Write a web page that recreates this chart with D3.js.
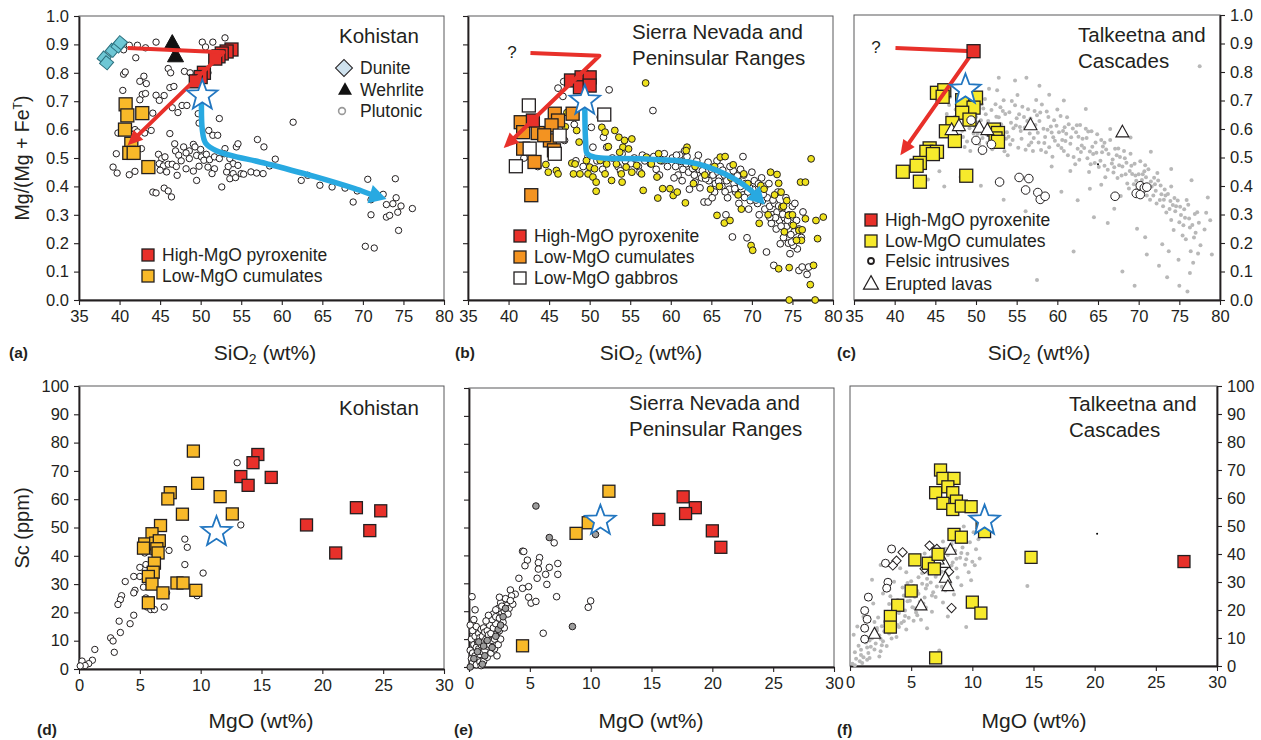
<!DOCTYPE html>
<html><head><meta charset="utf-8">
<script src="https://cdn.jsdelivr.net/npm/d3@7"></script>
<style>
body{margin:0;background:#fff}
svg{display:block}
text{font-family:"Liberation Sans",Arial,Helvetica,sans-serif;fill:#231f20}
</style></head><body>
<svg id="chart" width="1261" height="740"></svg>
<script>
// ---------------- DATA ----------------
const siTicks = [35,40,45,50,55,60,65,70,75,80];
const mgTicks = [0,0.1,0.2,0.3,0.4,0.5,0.6,0.7,0.8,0.9,1.0];
const mgoTicks = [0,5,10,15,20,25,30];
const scTicks = [0,10,20,30,40,50,60,70,80,90,100];

// (a) Kohistan, SiO2 vs Mg#
const aDunite = [[38.1,0.852],[38.4,0.835],[39.1,0.879],[39.8,0.894],[40.1,0.906]];
const aWehrlite = [[46.5,0.903],[46.9,0.858]];
const aHigh = [[53.8,0.882],[53.2,0.875],[52.6,0.868],[52.2,0.858],[51.8,0.85],[50.4,0.80],[50.0,0.785],[49.4,0.77]];
const aLow = [[40.75,0.689],[40.96,0.650],[42.8,0.658],[40.67,0.600],[41.45,0.550],[41.2,0.518],[41.74,0.518],[43.55,0.468]];
const aPlut = [[40.5,0.881],[41.2,0.897],[42.2,0.897],[43.2,0.888],[44.5,0.908],[50.2,0.908],[51.5,0.908],[53.0,0.923],[50.6,0.891],[42.0,0.853],
[46.0,0.815],[46.3,0.80],[48.0,0.805],[48.7,0.80],[49.8,0.80],[50.9,0.80],[40.5,0.795],[40.7,0.803],[43.0,0.788],[42.5,0.770],[43.3,0.762],
[40.4,0.738],[46.2,0.748],[46.7,0.752],[42.8,0.724],[43.2,0.727],[44.5,0.721],[45.5,0.72],[42.5,0.705],[44.9,0.703],[46.5,0.677],[47.2,0.660],
[47.7,0.685],[48.3,0.685],[44.1,0.658],[41.9,0.60],[42.2,0.592],[43.1,0.588],[43.9,0.597],[39.8,0.588],[49.7,0.656],[49.8,0.623],[52.3,0.639],
[51.0,0.597],[51.5,0.58],[52.1,0.58],[46.2,0.586],[46.8,0.550],[46.9,0.525],[39.6,0.515],[39.2,0.468],[39.7,0.447],[41.2,0.441],[41.9,0.453],
[42.7,0.533],[44.8,0.513],[45.2,0.498],[45.6,0.504],[44.9,0.48],[45.4,0.472],[46.0,0.478],[46.5,0.478],[45.0,0.457],[45.8,0.451],[47.1,0.439],
[47.9,0.539],[48.6,0.525],[48.2,0.518],[49.1,0.548],[49.3,0.539],[48.6,0.498],[49.5,0.509],[50.1,0.504],[50.7,0.513],[50.4,0.492],[51.1,0.494],
[51.7,0.504],[52.3,0.498],[49.8,0.471],[50.9,0.468],[51.7,0.462],[48.2,0.462],[49.1,0.454],[49.5,0.421],[51.4,0.445],[53.0,0.533],[54.4,0.539],
[54.6,0.550],[53.6,0.498],[54.0,0.480],[53.2,0.451],[54.6,0.474],[54.0,0.445],[55.0,0.445],[53.6,0.427],[54.3,0.431],[52.6,0.398],[55.3,0.443],
[56.2,0.451],[56.9,0.447],[57.7,0.445],[57.0,0.565],[57.8,0.539],[58.5,0.472],[59.2,0.496],[61.4,0.626],[62.4,0.421],[63.2,0.439],[64.7,0.404],
[66.2,0.398],[67.8,0.394],[68.8,0.345],[69.3,0.384],[70.6,0.425],[71.0,0.353],[71.0,0.30],[70.3,0.189],[71.4,0.183],[72.5,0.372],[72.9,0.336],
[72.9,0.292],[73.3,0.298],[73.7,0.339],[74.0,0.427],[74.1,0.360],[74.3,0.309],[74.7,0.331],[74.4,0.245],[76.1,0.322],[44.1,0.380],[44.5,0.377],
[45.5,0.394],[46.0,0.384],[46.4,0.363],[47.3,0.51],[47.6,0.49],[52.9,0.515],[53.4,0.47],[50.0,0.53],[47.0,0.47]];
const aStar = [[50.2,0.72]];
const aRed = [[41.0,0.887],[52.8,0.872],[41.0,0.545]];
const aBlue = [[50.1,0.700],[50.2,0.600],[50.6,0.553],[52.0,0.525],[58.0,0.481],[64.0,0.435],[69.0,0.392],[71.0,0.372],[72.9,0.356]];

// (b) Sierra Nevada and Peninsular Ranges
const bHigh = [[47.7,0.773],[49.0,0.784],[50.0,0.784],[48.8,0.749],[50.0,0.755],[43.0,0.632]];
const bLow = [[41.5,0.626],[41.8,0.591],[43.6,0.588],[45.7,0.656],[46.1,0.632],[45.3,0.615],[45.1,0.562],[45.6,0.527],[41.8,0.533],[43.2,0.486],[42.8,0.369],[47.9,0.656],[44.4,0.58]];
const bGab = [[42.5,0.685],[42.6,0.533],[40.9,0.471],[45.7,0.515],[51.8,0.653],[46.3,0.579]];
const bWhite = [[46.8,0.769],[46.1,0.746],[46.7,0.717],[52.4,0.740],[57.8,0.667],[51.3,0.644],[50.2,0.608],[48.1,0.618],[42.5,0.506],[46.9,0.562],
[51.7,0.573],[52.1,0.538],[50.4,0.538],[44.6,0.57],[41.9,0.50],[43.6,0.47],[48.3,0.49],[49.2,0.47],[50.9,0.49],[52.8,0.50],[53.5,0.47],[54.4,0.49],
[55.1,0.48],[56.0,0.47],[56.8,0.49],[57.5,0.48],[58.2,0.46],[58.9,0.49],[59.6,0.47],[60.2,0.50],[60.6,0.47],[61.1,0.51],[61.5,0.46],[61.9,0.48],
[62.2,0.45],[62.6,0.475],[62.9,0.44],[63.2,0.49],[63.5,0.46],[63.8,0.43],[64.1,0.47],[64.4,0.45],[64.7,0.42],[65.0,0.46],[65.2,0.44],[65.5,0.41],
[65.8,0.45],[66.0,0.43],[66.3,0.40],[66.6,0.44],[66.9,0.42],[67.2,0.39],[67.5,0.43],[67.8,0.41],[68.0,0.38],[68.3,0.42],[68.6,0.40],[68.9,0.37],
[69.2,0.41],[69.5,0.38],[69.8,0.35],[70.1,0.39],[70.4,0.37],[70.7,0.34],[71.0,0.38],[71.3,0.35],[71.6,0.32],[71.9,0.36],[72.2,0.33],[72.5,0.30],
[72.8,0.34],[73.1,0.31],[73.4,0.28],[73.7,0.32],[74.0,0.29],[74.3,0.26],[74.6,0.30],[74.9,0.27],[75.2,0.24],[75.5,0.28],[75.8,0.25],[76.1,0.22],
[60.9,0.44],[61.4,0.42],[62.0,0.505],[63.0,0.415],[63.6,0.395],[64.6,0.485],[65.4,0.38],[66.1,0.47],[67.0,0.36],[67.7,0.455],[68.4,0.34],[69.0,0.44],
[69.6,0.32],[70.3,0.42],[70.9,0.30],[71.6,0.40],[72.4,0.27],[73.0,0.25],[73.9,0.22],[74.5,0.20],[75.0,0.33],[75.6,0.18],[68.9,0.505],[67.6,0.222],
[69.4,0.219],[71.8,0.169],[72.7,0.122],[74.7,0.163],[75.1,0.192],[75.8,0.104],[76.2,0.116],[76.8,0.090],[77.0,0.116],[73.5,0.198],[74.9,0.204],
[64.1,0.345],[64.6,0.345],[66.8,0.30],[60.7,0.51],[59.2,0.515],[57.9,0.505],[56.5,0.51],[55.5,0.50],[54.0,0.515],[61.7,0.525],[63.4,0.51],[65.7,0.49],
[67.3,0.47],[68.6,0.46],[70.0,0.45],[71.2,0.43],[72.1,0.41],[73.2,0.38],[74.2,0.36],[75.3,0.34],[76.3,0.31],[73.6,0.26],[72.9,0.29],[74.8,0.23],
[65.1,0.36],[62.3,0.39],[60.4,0.43],[58.6,0.44],[56.2,0.45],[53.8,0.455],[51.6,0.46],[49.8,0.505],
[62.7,0.463],[64.3,0.427],[65.9,0.418],[66.4,0.457],[67.9,0.392],[68.2,0.437],[69.7,0.396],[70.5,0.352],[71.4,0.372],[72.6,0.352],[73.3,0.331],
[61.3,0.488],[63.9,0.455],[66.7,0.381],[69.1,0.361],[70.8,0.409],[72.2,0.291],[73.8,0.302],[74.4,0.281]];
const bYellow = [[56.9,0.764],[53.6,0.573],[54.3,0.562],[55.2,0.567],[54.1,0.538],[54.8,0.532],[53.7,0.520],[53.1,0.597],[52.3,0.540],[51.5,0.608],
[51.9,0.591],[48.4,0.597],[48.7,0.556],[47.8,0.482],[48.2,0.479],[48.0,0.444],[48.8,0.444],[49.6,0.491],[50.0,0.468],[50.6,0.462],[49.8,0.444],
[50.4,0.433],[50.8,0.415],[50.8,0.383],[51.3,0.491],[52.1,0.479],[51.9,0.444],[52.7,0.421],[53.3,0.479],[53.9,0.444],[54.0,0.415],[54.5,0.468],
[55.2,0.450],[55.8,0.474],[56.4,0.444],[56.6,0.386],[57.0,0.503],[57.6,0.479],[58.5,0.515],[58.7,0.491],[58.3,0.433],[59.0,0.392],[58.4,0.359],
[59.9,0.392],[60.3,0.368],[60.8,0.380],[61.8,0.342],[62.0,0.538],[61.9,0.526],[44.6,0.477],[44.9,0.450],[45.9,0.456],[46.1,0.444],[66.1,0.503],
[66.7,0.505],[67.7,0.476],[69.0,0.444],[65.7,0.298],[66.6,0.271],[67.3,0.280],[69.9,0.192],[70.1,0.175],[71.1,0.403],[72.3,0.450],[73.1,0.442],
[73.3,0.411],[73.6,0.380],[73.7,0.327],[74.3,0.350],[74.5,0.298],[75.1,0.263],[75.8,0.245],[76.1,0.210],[76.2,0.247],[76.6,0.286],[77.3,0.497],
[76.0,0.415],[76.6,0.415],[77.9,0.280],[78.8,0.292],[78.1,0.216],[77.2,0.054],[77.6,0.122],[74.6,0.114],[73.3,0.110],[74.6,0.0],[77.8,0.0],
[63.0,0.47],[64.2,0.44],[65.4,0.47],[66.0,0.40],[67.4,0.43],[68.3,0.37],[69.5,0.41],[70.6,0.36],[71.5,0.39],[72.0,0.30],[72.8,0.37],[73.9,0.33],
[74.0,0.24],[75.0,0.30],[75.5,0.21],[70.9,0.27],[68.7,0.32],[62.8,0.41],[64.9,0.39],[46.5,0.585],[47.0,0.61],[45.8,0.53],[47.2,0.66]];
const bStar = [[49.4,0.702]];
const bRed = [[42.7,0.870],[51.2,0.860],[39.4,0.535]];
const bBlue = [[49.4,0.680],[49.5,0.560],[49.7,0.515],[50.6,0.503],[56.2,0.497],[62.4,0.485],[66.5,0.446],[69.8,0.388],[71.6,0.336]];

// (c) Talkeetna and Cascades
const cHigh = [[49.7,0.873]];
const cLow = [[45.2,0.727],[46.1,0.736],[45.9,0.713],[48.3,0.701],[50.0,0.710],[49.7,0.675],[48.3,0.657],[49.2,0.633],[47.1,0.621],[46.3,0.592],
[47.4,0.558],[52.2,0.598],[52.7,0.586],[52.4,0.567],[52.7,0.555],[44.3,0.532],[43.9,0.520],[45.2,0.520],[44.7,0.512],[43.1,0.481],[42.7,0.471],
[41.0,0.450],[43.1,0.415],[48.8,0.436]];
const cFelsic = [[49.4,0.631],[50.0,0.560],[50.8,0.526],[51.9,0.546],[52.9,0.414],[55.3,0.430],[56.5,0.426],[56.1,0.386],[57.6,0.377],[57.9,0.353],
[58.5,0.364],[67.1,0.364],[69.7,0.374],[70.2,0.401],[70.2,0.370],[70.7,0.394],[71.0,0.396]];
const cLava = [[47.0,0.596],[47.9,0.610],[50.4,0.604],[51.4,0.596],[56.7,0.613],[68.0,0.588]];
const cGray = [[46.4,0.653],[47.3,0.597],[46.8,0.712],[47.9,0.541],[47.5,0.668],[48.6,0.629],[48.1,0.733],[48.9,0.556],[49.4,0.688],[48.3,0.594],
[49.8,0.611],[50.4,0.547],[49.6,0.742],[50.9,0.672],[50.2,0.583],[51.5,0.628],[51.1,0.705],[50.7,0.515],[51.8,0.559],[52.4,0.687],
[52.1,0.612],[52.9,0.541],[53.6,0.653],[52.6,0.736],[53.2,0.594],[54.3,0.622],[53.9,0.508],[54.8,0.683],[54.5,0.561],[55.4,0.607],
[55.1,0.719],[55.9,0.642],[56.6,0.584],[56.1,0.527],[57.2,0.663],[56.9,0.614],[57.7,0.553],[58.3,0.601],[57.4,0.702],[58.9,0.642],
[58.6,0.518],[59.5,0.571],[59.2,0.609],[60.1,0.543],[60.7,0.593],[60.4,0.646],[61.3,0.508],[61.0,0.558],[61.9,0.602],[62.5,0.531],
[62.2,0.476],[63.1,0.566],[62.8,0.614],[63.7,0.497],[64.3,0.538],[63.9,0.449],[64.9,0.582],[64.6,0.481],[65.5,0.518],[66.2,0.457],
[65.8,0.552],[66.8,0.493],[67.4,0.428],[67.1,0.531],[68.0,0.468],[68.6,0.409],[68.3,0.497],[69.2,0.442],[69.8,0.389],[69.5,0.478],
[70.4,0.421],[71.0,0.367],[70.7,0.452],[71.6,0.398],[72.2,0.339],[71.9,0.429],[72.8,0.371],[73.4,0.307],[73.1,0.352],[74.0,0.281],
[74.6,0.329],[74.3,0.246],[75.2,0.298],[75.8,0.213],[75.5,0.262],[76.4,0.171],[77.0,0.236],[76.7,0.131],[77.6,0.192],[78.1,0.247],
[47.1,0.627],[47.7,0.694],[48.4,0.572],[49.1,0.651],[49.7,0.584],[50.3,0.716],[50.6,0.631],[51.3,0.582],[51.9,0.667],[52.3,0.563],
[52.8,0.641],[53.4,0.701],[53.7,0.566],[54.1,0.659],[54.6,0.603],[55.2,0.534],[55.7,0.678],[56.3,0.628],[56.8,0.553],[57.3,0.614],
[57.9,0.658],[58.5,0.572],[59.0,0.536],[59.6,0.631],[60.2,0.589],[60.8,0.523],[61.4,0.617],[61.7,0.571],[62.3,0.589],[62.9,0.519],
[63.5,0.601],[64.1,0.476],[64.7,0.553],[65.3,0.489],[65.9,0.431],[66.5,0.561],[67.0,0.466],[67.7,0.502],[68.4,0.441],[69.0,0.513],
[69.7,0.418],[70.2,0.487],[70.9,0.431],[71.4,0.352],[72.0,0.406],[72.6,0.351],[73.2,0.388],[73.8,0.319],[74.4,0.358],[75.0,0.273],
[75.6,0.318],[76.2,0.286],[76.9,0.302],[77.4,0.271],[78.3,0.306],
[47.6,0.573],[48.0,0.651],[48.8,0.708],[49.3,0.523],[50.0,0.642],[50.8,0.568],[51.6,0.741],[52.0,0.529],[53.0,0.676],[53.5,0.522],
[54.4,0.698],[55.0,0.638],[55.6,0.566],[56.4,0.669],[57.0,0.523],[57.6,0.587],[58.1,0.686],[58.8,0.597],[59.4,0.503],[60.0,0.668],
[60.6,0.561],[61.2,0.641],[62.0,0.502],[62.6,0.573],[63.3,0.533],[63.8,0.591],[64.4,0.512],[65.1,0.467],[65.6,0.539],[66.3,0.512],
[66.9,0.447],[67.6,0.473],[68.2,0.523],[68.9,0.453],[69.4,0.406],[70.0,0.441],[70.6,0.392],[71.2,0.459],[71.8,0.367],[72.4,0.419],
[73.0,0.329],[73.6,0.372],[74.2,0.333],[74.8,0.349],[75.4,0.226],[76.1,0.334],[76.6,0.263],[77.2,0.308],
[46.7,0.684],[47.4,0.642],[48.5,0.667],[49.2,0.603],[49.9,0.689],[50.5,0.596],[51.2,0.652],[51.7,0.608],[52.5,0.643],[53.1,0.617],
[53.8,0.589],[54.2,0.546],[54.9,0.612],[55.5,0.593],[56.0,0.605],[56.7,0.637],[57.1,0.568],[57.8,0.628],[58.4,0.551],[58.7,0.661],
[59.3,0.588],[59.9,0.611],[60.5,0.533],[61.1,0.583],[61.6,0.548],[62.4,0.613],[63.0,0.542],[63.6,0.568],[64.2,0.592],[64.8,0.517],
[65.4,0.561],[66.0,0.528],[66.7,0.479],[67.3,0.508],[67.9,0.437],[68.5,0.482],[69.1,0.471],[69.6,0.437],[70.3,0.409],[70.8,0.473],
[71.5,0.416],[72.1,0.383],[72.7,0.402],[73.3,0.367],[73.9,0.347],[74.5,0.311],[75.1,0.327],[75.7,0.289],[76.3,0.254],[76.8,0.219],
[77.3,0.163],[47.8,0.612],[48.6,0.537],[50.1,0.623],[50.7,0.687],[51.4,0.552],[52.2,0.588],[53.3,0.663],[54.0,0.573],[55.3,0.652],
[56.5,0.543],[57.5,0.648],[58.0,0.526],[59.7,0.559],[60.9,0.606],[62.7,0.492],[64.0,0.521],[65.8,0.471],[67.5,0.532],[68.8,0.391],
[70.5,0.441],[72.3,0.446],[74.0,0.398],[75.9,0.351],
[77.5,0.82],[56.2,0.78],[52.8,0.78],[57.8,0.752],[45.5,0.452],[44.1,0.423],[46.1,0.398],[48.1,0.432],[50.6,0.401],[53.4,0.352],[56.1,0.311],[58.0,0.372],
[57.5,0.07],[62.0,0.17],[64.5,0.29],[66.2,0.27],[68.0,0.10],[69.5,0.05],[71.0,0.16],[72.5,0.12],[73.5,0.08],[75.0,0.05],[76.0,0.03],[78.8,0.28],
[79.0,0.16],[78.5,0.36],[76.5,0.42],[74.0,0.46],[71.5,0.52],[69.0,0.57],[66.5,0.60],[63.5,0.67],[60.8,0.70],[59.0,0.72],[54.8,0.77],[60.5,0.38],
[62.5,0.35],[64.0,0.39],[67.0,0.32],[69.8,0.25],[70.8,0.22],[72.9,0.196],[74.9,0.141],[73.7,0.171],[76.3,0.095],[67.8,0.365],[65.4,0.404],[61.6,0.453],[59.3,0.468]];
const cSpeck = [[65.0,0.476]];
const cStar = [[48.7,0.738]];
const cRed = [[40.1,0.884],[49.7,0.873],[40.7,0.508]];

// (d) Kohistan, MgO vs Sc
const dHigh = [[14.7,75.8],[14.3,72.9],[13.3,68.0],[13.9,64.9],[15.8,67.7],[18.7,50.9],[21.1,41.0],[22.8,57.0],[24.8,55.9],[23.9,48.9]];
const dLow = [[9.4,77.0],[9.75,65.6],[7.5,62.3],[7.3,60.1],[11.6,60.9],[8.5,54.7],[12.6,54.8],[6.7,50.7],[6.0,47.8],[5.4,44.2],[5.3,42.7],[6.3,44.5],
[6.6,45.3],[6.4,42.5],[6.5,41.0],[6.2,37.4],[6.1,34.2],[5.7,32.7],[6.0,30.0],[6.9,26.9],[8.05,30.4],[8.55,30.4],[9.6,27.8],[5.7,23.4]];
const dPlut = [[13.0,72.9],[13.3,50.9],[8.7,45.9],[8.9,43.0],[7.4,41.9],[8.7,36.9],[10.2,33.9],[5.4,41.0],[6.4,37.7],[5.0,35.9],[5.5,36.9],[5.0,32.7],
[4.5,32.7],[3.8,30.9],[5.3,28.9],[4.6,27.8],[4.5,26.9],[3.5,25.9],[3.4,24.5],[3.2,22.8],[5.5,25.1],[5.6,24.5],[5.6,21.9],[5.9,21.0],[6.2,21.0],
[7.0,21.9],[7.2,26.9],[9.7,25.9],[4.5,19.0],[3.3,16.9],[4.2,16.0],[3.4,12.9],[2.6,11.0],[2.8,9.9],[1.3,6.9],[2.9,5.9],[0.25,2.8],[1.1,3.1],
[0.8,1.9],[0.5,1.2],[0.1,1.1]];
const dStar = [[11.3,48.4]];

// (e) Sierra Nevada and Peninsular Ranges, MgO vs Sc
const eHigh = [[17.6,61.0],[18.6,57.1],[17.8,55.0],[15.6,52.9],[20.0,48.8],[20.7,42.9]];
const eLow = [[11.5,63.0],[9.8,51.7],[8.8,47.9],[4.4,7.6]];
const eWhite = [[7.0,44.5],[4.4,41.5],[4.5,41.4],[4.8,38.3],[4.6,36.3],[5.8,39.2],[5.7,37.4],[5.7,35.1],[6.6,35.7],[7.3,37.1],[7.3,33.2],[6.3,33.2],
[4.1,31.8],[4.9,28.8],[4.4,28.2],[5.6,31.8],[6.4,29.6],[7.2,25.2],[3.4,27.6],[3.8,26.1],[4.9,25.0],[5.1,22.9],[5.5,23.5],[10.0,23.7],[9.8,21.4],
[6.1,12.1],[0.25,25.2],[0.5,20.5],[0.1,15],[0.3,13],[0.6,14.5],[0.2,10],[0.5,11],[0.8,12],[1.0,13.5],[1.2,14],[0.4,8],[0.7,9],[0.9,10.5],[1.1,11],
[1.3,12.5],[1.5,13],[1.7,15],[0.1,6],[0.3,5],[0.6,7],[0.8,6.5],[1.0,8],[1.2,9],[1.4,10],[1.6,11.5],[1.8,12],[2.0,14],[2.2,15.5],[0.2,3],[0.5,4],
[0.7,2.5],[0.9,4.5],[1.1,5.5],[1.3,6],[1.5,7.5],[1.7,8],[1.9,9.5],[2.1,10],[2.3,12],[2.5,13],[0.3,1.5],[0.6,0.8],[0.9,1.8],[1.2,2],[1.5,3.5],
[1.8,5],[2.1,6.5],[2.4,8],[2.6,10],[1.9,17],[2.0,19],[2.2,18],[2.5,17.5],[2.7,19.5],[2.4,21],[2.6,23],[2.9,20],[3.1,22],[3.3,21],[3.0,24.5],
[3.2,19],[2.8,16],[3.5,25.5],[3.6,22.5],[2.5,25],[1.6,18.5],[1.4,16.5],[2.9,14],[2.3,4],[1.0,0.5],[0.4,17],[3.4,23.8],[2.7,21.8],[2.2,20.5]];
const eGrayPts = [[0.1,0],[0.4,3],[0.8,9],[1.1,1],[1.3,4],[1.5,9.5],[1.9,7],[2.2,11],[2.4,13.5],[2.6,15],[2.8,18],[3.0,21],[1.2,7.5],[0.7,5.5],
[5.5,57.7],[6.6,46.4],[10.4,47.5],[8.5,14.5]];
const eStar = [[10.8,52.4]];

// (f) Talkeetna and Cascades, MgO vs Sc
const fHigh = [[27.3,37.3]];
const fLow = [[7.4,70.0],[7.6,67.0],[8.5,67.0],[7.0,61.9],[8.0,64.0],[8.4,61.9],[8.7,58.9],[7.6,58.1],[8.4,55.9],[9.1,57.1],[9.9,56.9],[10.8,51.2],
[11.0,48.0],[8.5,47.0],[9.1,46.0],[14.8,38.8],[5.3,37.9],[6.4,36.7],[7.2,39.9],[6.9,34.7],[5.0,26.8],[3.9,21.7],[3.3,17.7],[3.3,13.9],[10.0,22.8],
[10.7,18.9],[7.0,2.9]];
const fCirc = [[3.4,41.8],[2.9,36.7],[3.1,29.9],[3.0,27.8],[1.5,24.6],[1.2,19.8],[1.4,16.7],[1.2,13.5],[1.2,9.6]];
const fDiam = [[4.3,40.6],[3.8,37.6],[3.5,35.9],[6.5,43.0],[7.1,41.8],[6.1,34.7],[8.1,33.7],[8.3,20.7]];
const fTri = [[8.2,41.4],[7.7,36.7],[7.8,31.4],[8.0,28.4],[5.8,21.5],[2.0,11.4],[7.2,37.9]];
const fGray = [[0.2,0.8],[0.5,2.6],[0.4,4.9],[0.8,1.7],[0.9,5.8],[1.1,3.1],[0.7,7.2],[1.3,8.4],[1.5,4.6],[1.2,10.3],[1.7,6.9],[1.9,11.8],[1.6,9.1],
[2.1,8.0],[2.2,13.6],[2.0,15.7],[2.4,10.9],[2.6,14.2],[2.3,17.3],[2.8,12.4],[2.9,16.1],[3.1,19.4],[2.7,8.8],[3.3,14.7],[3.4,18.2],[3.2,22.1],
[3.6,16.8],[3.7,20.5],[3.5,12.3],[3.9,23.6],[4.0,18.9],[4.2,15.4],[4.1,21.7],[4.4,25.2],[4.5,19.8],[4.3,28.0],[4.7,23.1],[4.8,17.2],[4.9,26.4],
[5.1,21.0],[5.0,30.3],[5.3,24.7],[5.4,19.1],[5.2,28.6],[5.6,31.7],[5.7,22.9],[5.5,26.8],[5.9,29.4],[6.0,34.6],[6.1,24.5],[6.3,31.2],[6.2,27.7],
[6.5,36.1],[6.6,29.8],[6.4,33.4],[6.8,26.3],[6.9,38.2],[7.0,31.9],[7.2,35.0],[7.1,28.4],[7.4,40.3],[7.5,33.7],[7.3,37.3],[7.7,30.8],[7.8,41.9],
[7.9,36.4],[8.1,33.1],[8.0,39.6],[8.3,43.5],[8.4,37.0],[8.2,29.3],[8.6,41.2],[8.7,34.8],[8.9,44.9],[9.0,38.7],[8.8,31.6],[9.2,42.3],[9.4,36.2],
[9.3,46.6],[9.6,40.1],[9.8,44.2],[9.7,33.5],[10.1,47.8],[10.3,41.7],[10.0,37.2],[10.5,45.3],
[0.3,11.2],[1.0,13.4],[1.4,2.2],[2.5,5.3],[3.0,7.1],[3.8,10.4],[4.6,13.0],[5.8,16.5],[6.7,19.4],[7.6,22.7],[8.5,25.5],[9.1,28.8],[9.9,30.6],
[14.5,28.6],[9.5,13.9],[8.0,17.7],[6.3,13.5],[2.4,3.4],[1.8,30.8],[2.5,36.1],[9.3,49.8],[7.3,5.5],[5.2,16.2],[4.6,33.5],[3.2,27.4],[7.6,44.5],
[6.1,40.2],[5.0,38.4],[4.1,34.9],[8.4,44.8],[10.2,36.0],[10.6,38.4],[6.3,36.9],[7.2,40.9],[1.9,22.3],[2.7,25.9],[3.6,30.1],[1.1,17.6],[0.6,14.1],
[0.9,3.9],[1.4,6.6],[1.8,9.9],[2.2,12.7],[2.5,9.7],[2.9,14.8],[3.2,11.6],[3.5,18.9],[3.9,14.6],[4.2,22.8],[4.5,17.9],[4.9,23.3],[5.3,20.6],
[5.6,25.8],[6.0,22.3],[6.3,28.9],[6.7,25.2],[7.1,32.8],[7.5,28.3],[7.9,34.1],[8.3,35.9],[8.7,38.3],[9.1,40.4],[9.5,38.1],[1.6,2.9],[2.0,5.9],
[2.6,7.4],[3.4,9.8],[4.0,13.9],[4.4,16.0],[5.5,18.1],[6.2,20.9],[7.0,24.6],[7.8,27.0],[0.4,0.3],[1.0,1.1],[3.3,24.9],[4.7,29.6],[5.9,33.1],[6.6,38.8]];
const fSpeck = [[20.2,47.2]];
const fStar = [[11.0,51.9]];

// ---------------- DRAWING ----------------
const svg = d3.select('#chart');
const FONT = '"Liberation Sans",Arial,Helvetica,sans-serif';
const RED = '#e8302a', GOLD = '#f8b929', ORANGE = '#f39321', YEL = '#f7ea2c', YELC = '#efe21c',
      BLUE = '#28a9e1', STARC = '#2276c0', GRAY = '#b8b8b8', INK = '#231f20', TEAL = '#6ec7d5';

function panel(box, xd, yd, xt, yt, yfmt, side, yLabels) {
  const g = svg.append('g');
  const x = d3.scaleLinear().domain(xd).range([box.l, box.r]);
  const y = d3.scaleLinear().domain(yd).range([box.b, box.t]);
  g.append('rect').attr('x', box.l).attr('y', box.t).attr('width', box.r - box.l).attr('height', box.b - box.t)
    .attr('fill', 'none').attr('stroke', '#58595b').attr('stroke-width', 1);
  const xa = g.append('g').attr('transform', `translate(0,${box.b})`)
    .call(d3.axisBottom(x).tickValues(xt).tickSize(5).tickSizeOuter(0).tickPadding(5).tickFormat(d3.format('d')));
  const yAx = side === 'left' ? d3.axisLeft(y) : d3.axisRight(y);
  yAx.tickValues(yt).tickSize(5).tickSizeOuter(0).tickPadding(5).tickFormat(yLabels ? yfmt : () => '');
  const ya = g.append('g').attr('transform', `translate(${side === 'left' ? box.l : box.r},0)`).call(yAx);
  [xa, ya].forEach(a => {
    a.select('.domain').attr('stroke', INK).attr('stroke-width', 1.8);
    a.selectAll('.tick line').attr('stroke', INK).attr('stroke-width', 1.1);
    a.selectAll('.tick text').attr('font-size', 16.5).attr('font-family', FONT).attr('fill', INK);
  });
  return { g, x, y, box };
}

function squares(p, data, s, fill, stroke) {
  p.g.append('g').selectAll('rect').data(data).join('rect')
    .attr('x', d => p.x(d[0]) - s / 2).attr('y', d => p.y(d[1]) - s / 2)
    .attr('width', s).attr('height', s).attr('fill', fill)
    .attr('stroke', stroke || INK).attr('stroke-width', 1.3);
}
function circles(p, data, r, fill, stroke, sw) {
  p.g.append('g').selectAll('circle').data(data).join('circle')
    .attr('cx', d => p.x(d[0])).attr('cy', d => p.y(d[1])).attr('r', r)
    .attr('fill', fill).attr('stroke', stroke || 'none').attr('stroke-width', sw || 1);
}
function triPath(w) { const h = w * 0.9; return `M0,${-h * 0.62}L${w / 2},${h * 0.38}L${-w / 2},${h * 0.38}Z`; }
function starPath(R) {
  const r = R * 0.42, pts = [];
  for (let i = 0; i < 10; i++) { const a = -Math.PI / 2 + i * Math.PI / 5, rr = i % 2 ? r : R; pts.push([rr * Math.cos(a), rr * Math.sin(a)]); }
  return 'M' + pts.map(q => q[0].toFixed(2) + ',' + q[1].toFixed(2)).join('L') + 'Z';
}
function shapes(p, data, path, fill, stroke, sw, rot) {
  p.g.append('g').selectAll('path').data(data).join('path')
    .attr('d', path).attr('transform', d => `translate(${p.x(d[0])},${p.y(d[1])}) rotate(${rot || 0})`)
    .attr('fill', fill).attr('stroke', stroke || 'none').attr('stroke-width', sw || 1).attr('stroke-linejoin', 'miter');
}
function star(p, data, R) { shapes(p, data, starPath(R), '#fff', STARC, 1.8); }
function arrow(p, data, color, sw, hl, hw, curved) {
  const P = data.map(d => [p.x(d[0]), p.y(d[1])]);
  const tip = P[P.length - 1], prev = P[P.length - 2];
  let dx = tip[0] - prev[0], dy = tip[1] - prev[1]; const L = Math.hypot(dx, dy); dx /= L; dy /= L;
  const base = [tip[0] - dx * hl, tip[1] - dy * hl];
  const P2 = P.slice(0, -1).concat([[tip[0] - dx * hl * 0.8, tip[1] - dy * hl * 0.8]]);
  const line = d3.line().curve(curved ? d3.curveCatmullRom.alpha(0.5) : d3.curveLinear);
  p.g.append('path').attr('d', line(P2)).attr('fill', 'none').attr('stroke', color).attr('stroke-width', sw)
    .attr('stroke-linejoin', 'round');
  const nx = -dy, ny = dx;
  p.g.append('path').attr('d', `M${tip[0]},${tip[1]}L${base[0] + nx * hw / 2},${base[1] + ny * hw / 2}L${base[0] - nx * hw / 2},${base[1] - ny * hw / 2}Z`)
    .attr('fill', color);
}
function txt(x, y, s, size, anchor, weight) {
  return svg.append('text').attr('x', x).attr('y', y).attr('font-size', size).attr('font-family', FONT)
    .attr('text-anchor', anchor || 'start').attr('font-weight', weight || 'normal').attr('fill', INK).text(s);
}
function legendSq(x, y, fill, label) {
  svg.append('rect').attr('x', x - 6).attr('y', y - 6).attr('width', 12).attr('height', 12).attr('fill', fill).attr('stroke', INK).attr('stroke-width', 1.3);
  txt(x + 14, y + 6, label, 17.5);
}

const f1 = d3.format('.1f'), fd = d3.format('d');
// ---- (a)
const A = panel({ l: 79, r: 444, t: 16, b: 300 }, [35, 80], [0, 1], siTicks, mgTicks, f1, 'left', true);
circles(A, aPlut, 3.2, '#fff', INK, 1);
squares(A, aLow, 13, GOLD);
squares(A, aHigh, 13, RED);
shapes(A, aDunite, 'M-5,-5H5V5H-5Z', TEAL, '#2b6f7d', 1, 40);
shapes(A, aWehrlite, triPath(16), '#111', '#111', 1);
arrow(A, aBlue, BLUE, 5.5, 17, 19, true);
arrow(A, aRed, RED, 4, 15, 14, false);
star(A, aStar, 16);
txt(339, 43, 'Kohistan', 20.5);
svg.append('path').attr('d', 'M-6,-6H6V6H-6Z').attr('transform', 'translate(344,68) rotate(45)').attr('fill', '#cfe2ee').attr('stroke', INK).attr('stroke-width', 1);
txt(360, 74, 'Dunite', 17.5);
svg.append('path').attr('d', triPath(14)).attr('transform', 'translate(345,90)').attr('fill', '#111');
txt(360, 96, 'Wehrlite', 17.5);
svg.append('circle').attr('cx', 342).attr('cy', 111).attr('r', 3.4).attr('fill', '#fff').attr('stroke', '#999').attr('stroke-width', 1.6);
txt(360, 117, 'Plutonic', 17.5);
legendSq(148, 255, RED, 'High-MgO pyroxenite');
legendSq(148, 276, GOLD, 'Low-MgO cumulates');

// ---- (b)
const B = panel({ l: 468, r: 833, t: 16, b: 300 }, [35, 80], [0, 1], siTicks, mgTicks, f1, 'left', false);
circles(B, bWhite, 3.4, '#fff', INK, 1);
circles(B, bYellow, 3.4, YELC, INK, 1);
squares(B, bLow, 13, ORANGE);
squares(B, bGab, 13, '#fff');
squares(B, bHigh, 13, RED);
arrow(B, bBlue, BLUE, 5.5, 17, 19, true);
arrow(B, bRed, RED, 4, 15, 14, false);
star(B, bStar, 16);
txt(632, 39, 'Sierra Nevada and', 20.5);
txt(632, 65, 'Peninsular Ranges', 20.5);
txt(512, 58, '?', 17, 'middle');
legendSq(520, 236, RED, 'High-MgO pyroxenite');
legendSq(520, 257, ORANGE, 'Low-MgO cumulates');
legendSq(520, 278, '#fff', 'Low-MgO gabbros');

// ---- (c)
const C = panel({ l: 854, r: 1220, t: 15, b: 300 }, [35, 80], [0, 1], siTicks, mgTicks, f1, 'right', true);
circles(C, cGray, 2.0, GRAY);
circles(C, cSpeck, 1, '#000');
squares(C, cLow, 13, YEL);
circles(C, cFelsic, 4.3, '#fff', INK, 1);
shapes(C, cLava, triPath(13), '#fff', INK, 1.1);
arrow(C, cRed, RED, 4, 15, 14, false);
squares(C, cHigh, 13, RED);
star(C, cStar, 16);
txt(1078, 42, 'Talkeetna and', 20.5);
txt(1078, 68, 'Cascades', 20.5);
txt(876, 53, '?', 17, 'middle');
legendSq(871, 220, RED, 'High-MgO pyroxenite');
legendSq(871, 241, YEL, 'Low-MgO cumulates');
svg.append('circle').attr('cx', 871).attr('cy', 261).attr('r', 3).attr('fill', '#fff').attr('stroke', INK).attr('stroke-width', 1.8);
txt(885, 267, 'Felsic intrusives', 17.5);
svg.append('path').attr('d', triPath(15)).attr('transform', 'translate(871,284)').attr('fill', '#fff').attr('stroke', INK).attr('stroke-width', 1.2);
txt(885, 290, 'Erupted lavas', 17.5);

// ---- (d)
const D = panel({ l: 79, r: 444, t: 386, b: 669 }, [0, 30], [0, 100], mgoTicks, scTicks, fd, 'left', true);
circles(D, dPlut, 3.2, '#fff', INK, 1);
squares(D, dLow, 12, GOLD);
squares(D, dHigh, 12, RED);
star(D, dStar, 16);
txt(339, 415, 'Kohistan', 20.5);

// ---- (e)
const E = panel({ l: 469, r: 834, t: 388, b: 667 }, [0, 30], [0, 100], mgoTicks, scTicks, fd, 'left', false);
circles(E, eWhite, 3.3, '#fff', INK, 1);
circles(E, eGrayPts, 3.3, '#9d9d9d', INK, 1);
squares(E, eLow, 12, GOLD);
squares(E, eHigh, 12, RED);
star(E, eStar, 16);
txt(629, 410, 'Sierra Nevada and', 20.5);
txt(629, 436, 'Peninsular Ranges', 20.5);

// ---- (f)
const F = panel({ l: 850, r: 1217, t: 386, b: 666 }, [0, 30], [0, 100], mgoTicks, scTicks, fd, 'right', true);
circles(F, fGray, 2.0, GRAY);
circles(F, fSpeck, 1, '#000');
circles(F, fCirc, 4, '#fff', INK, 1);
shapes(F, fDiam, 'M-3.3,-3.3H3.3V3.3H-3.3Z', '#fff', INK, 1, 45);
shapes(F, fTri, triPath(12), '#fff', INK, 1.1);
squares(F, fLow, 12, YEL);
squares(F, fHigh, 12, RED);
star(F, fStar, 16);
txt(1069, 411, 'Talkeetna and', 20.5);
txt(1069, 437, 'Cascades', 20.5);

// ---- axis titles & panel letters
function siTitle(cx) {
  const t = svg.append('text').attr('x', cx).attr('y', 360).attr('font-size', 21).attr('font-family', FONT).attr('text-anchor', 'middle').attr('fill', INK);
  t.append('tspan').text('SiO');
  t.append('tspan').text('2').attr('font-size', 14).attr('dy', 4);
  t.append('tspan').text(' (wt%)').attr('dy', -4);
}
siTitle(265); siTitle(651); siTitle(1039);
[[261], [651], [1034]].forEach(c => txt(c[0], 728, 'MgO (wt%)', 21, 'middle'));
const yl = svg.append('text').attr('transform', 'translate(29,158) rotate(-90)').attr('font-size', 19.5).attr('font-family', FONT).attr('text-anchor', 'middle').attr('fill', INK);
yl.append('tspan').text('Mg/(Mg + Fe');
yl.append('tspan').text('T').attr('font-size', 12).attr('dy', -7);
yl.append('tspan').text(')').attr('dy', 7);
svg.append('text').attr('transform', 'translate(29,528) rotate(-90)').attr('font-size', 20).attr('font-family', FONT).attr('text-anchor', 'middle').attr('fill', INK).text('Sc (ppm)');
txt(9, 358, '(a)', 15.5, 'start', 'bold');
txt(455, 358, '(b)', 15.5, 'start', 'bold');
txt(837, 358, '(c)', 15.5, 'start', 'bold');
txt(37, 735, '(d)', 15.5, 'start', 'bold');
txt(454, 735, '(e)', 15.5, 'start', 'bold');
txt(837, 735, '(f)', 15.5, 'start', 'bold');
</script>
</body></html>
